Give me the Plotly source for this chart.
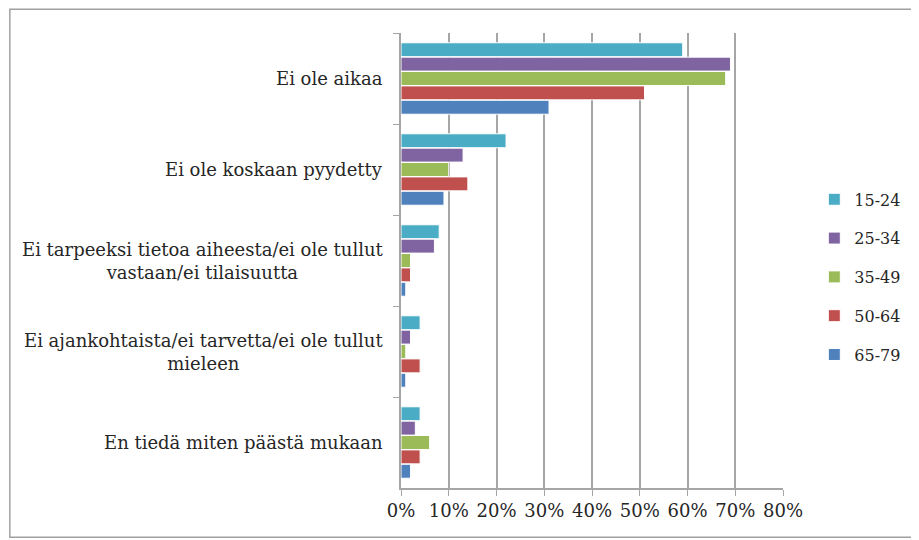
"""Horizontal grouped bar chart: reasons by age group"""

import plotly.graph_objects as go

CATEGORIES = [
    "Ei ole aikaa",
    "Ei ole koskaan pyydetty",
    "Ei tarpeeksi tietoa aiheesta/ei ole tullut<br>vastaan/ei tilaisuutta",
    "Ei ajankohtaista/ei tarvetta/ei ole tullut<br>mieleen",
    "En tiedä miten päästä mukaan",
]
AGE_GROUPS = ["15-24", "25-34", "35-49", "50-64", "65-79"]
COLORS = ["#4BACC6", "#8064A2", "#9BBB59", "#C0504D", "#4F81BD"]

AGE_15_24 = [0.59, 0.22, 0.08, 0.04, 0.04]
AGE_25_34 = [0.69, 0.13, 0.07, 0.02, 0.03]
AGE_35_49 = [0.68, 0.10, 0.02, 0.01, 0.06]
AGE_50_64 = [0.51, 0.14, 0.02, 0.04, 0.04]
AGE_65_79 = [0.31, 0.09, 0.01, 0.01, 0.02]
SERIES = [AGE_15_24, AGE_25_34, AGE_35_49, AGE_50_64, AGE_65_79]

FONT = "DejaVu Serif"
GRID = "#a6a6a6"

fig = go.Figure()
for name, values, color in zip(AGE_GROUPS, SERIES, COLORS):
    fig.add_trace(
        go.Bar(
            y=CATEGORIES,
            x=values,
            name=name,
            orientation="h",
            legendgroup=name,
            marker=dict(color=color, line=dict(color="white", width=1)),
        )
    )

# category labels, centred per line like the original
for cat in CATEGORIES:
    fig.add_annotation(
        x=-0.042,
        xref="paper",
        y=cat,
        yref="y",
        text=cat,
        showarrow=False,
        xanchor="right",
        align="center",
        font=dict(family=FONT, size=18, color="#262626"),
    )

# outer chart frame
fig.add_shape(
    type="rect",
    xref="paper",
    yref="paper",
    x0=-1.024,
    x1=1.34,
    y0=-0.108,
    y1=1.052,
    line=dict(color="#a0a0a0", width=1.5),
)

# page body adds 8px offset, so the figure is 8px smaller
fig.update_layout(
    width=911,
    height=532,
    margin=dict(l=393, r=136, t=25, b=52, autoexpand=False),
    paper_bgcolor="white",
    plot_bgcolor="white",
    barmode="group",
    bargap=0.21,
    bargroupgap=0.03,
    font=dict(family=FONT, size=18, color="#262626"),
    legend=dict(
        x=1.082,
        xanchor="left",
        y=0.464,
        yanchor="middle",
        tracegroupgap=15,
        font=dict(family=FONT, size=16),
    ),
)

fig.update_xaxes(
    range=[0, 0.8],
    dtick=0.1,
    tickformat=".0%",
    showgrid=True,
    gridcolor=GRID,
    gridwidth=1.5,
    showline=True,
    linecolor=GRID,
    linewidth=1.5,
    ticks="outside",
    ticklen=6,
    tickcolor=GRID,
    zeroline=False,
)
fig.update_yaxes(
    autorange="reversed",
    showticklabels=False,
    showline=True,
    linecolor=GRID,
    linewidth=1.5,
    ticks="outside",
    tickson="boundaries",
    ticklen=6,
    tickcolor=GRID,
)

fig.write_html("out.html")
